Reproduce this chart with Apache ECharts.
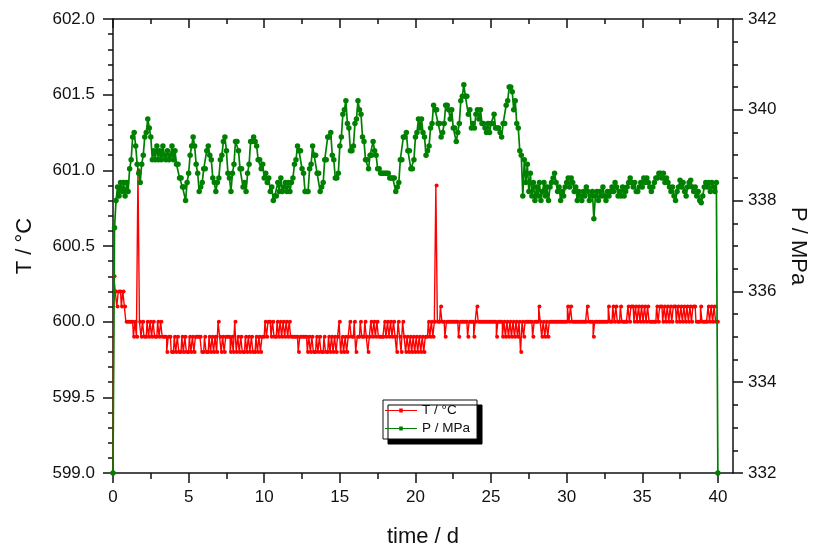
<!DOCTYPE html>
<html>
<head>
<meta charset="utf-8">
<script src="https://cdn.jsdelivr.net/npm/echarts@6/dist/echarts.min.js"></script>
<style>
  html, body { margin: 0; padding: 0; background: #ffffff; }
  #chart { width: 816px; height: 551px; }
</style>
</head>
<body>
<div id="chart"></div>
<script>
// Logger sampling interval, days
const SAMPLE_STEP_D = 0.1;

// Temperature readings (°C), one row per day, 10 samples per day; last row is day 40
const temperature = [
  599.0, 600.3, 600.2, 600.1, 600.2, 600.2, 600.1, 600.2, 600.1, 600.0,
  600.0, 600.0, 600.0, 600.0, 599.9, 600.0, 599.9, 601.0, 600.0, 599.9,
  600.0, 599.9, 599.9, 600.0, 599.9, 600.0, 599.9, 600.0, 599.9, 599.9,
  600.0, 599.9, 600.0, 599.9, 599.9, 599.9, 599.8, 599.9, 599.9, 599.8,
  599.8, 599.9, 599.8, 599.9, 599.8, 599.8, 599.9, 599.8, 599.9, 599.8,
  599.8, 599.9, 599.8, 599.9, 599.8, 599.9, 599.9, 599.9, 599.9, 599.8,
  599.8, 599.9, 599.8, 599.8, 599.9, 599.8, 599.9, 599.8, 599.9, 599.8,
  600.0, 599.9, 599.8, 599.9, 599.8, 599.9, 599.9, 599.9, 599.8, 599.9,
  599.8, 600.0, 599.8, 599.9, 599.8, 599.9, 599.8, 599.8, 599.9, 599.8,
  599.9, 599.8, 599.9, 599.8, 599.8, 599.9, 599.8, 599.9, 599.8, 599.9,
  599.9, 600.0, 599.9, 600.0, 600.0, 599.9, 600.0, 599.9, 599.9, 600.0,
  599.9, 600.0, 599.9, 600.0, 599.9, 600.0, 599.9, 600.0, 599.9, 599.9,
  599.9, 599.9, 599.9, 599.8, 599.9, 599.9, 599.9, 599.9, 599.9, 599.8,
  599.9, 599.8, 599.9, 599.8, 599.8, 599.9, 599.8, 599.9, 599.8, 599.8,
  599.9, 599.8, 599.8, 599.9, 599.8, 599.9, 599.8, 599.9, 599.8, 599.9,
  600.0, 599.8, 599.9, 599.8, 599.9, 599.8, 599.9, 600.0, 599.9, 599.9,
  600.0, 599.8, 599.9, 599.9, 600.0, 599.9, 599.9, 600.0, 599.9, 599.8,
  599.9, 600.0, 599.9, 600.0, 599.9, 600.0, 599.9, 599.9, 599.9, 599.9,
  600.0, 599.9, 600.0, 599.9, 600.0, 599.9, 600.0, 599.9, 599.8, 600.0,
  599.9, 599.8, 600.0, 599.9, 599.8, 599.9, 599.8, 599.9, 599.8, 599.9,
  599.8, 599.9, 599.8, 599.9, 599.8, 599.9, 599.8, 599.9, 599.9, 600.0,
  599.9, 600.0, 599.9, 600.0, 600.9, 600.0, 600.0, 600.1, 600.0, 600.0,
  599.9, 600.0, 600.0, 600.0, 600.0, 600.0, 600.0, 600.0, 600.0, 599.9,
  600.0, 600.0, 600.0, 600.0, 600.0, 599.9, 600.0, 600.0, 600.0, 599.9,
  600.0, 600.1, 600.0, 600.0, 600.0, 600.0, 600.0, 600.0, 600.0, 600.0,
  600.0, 600.0, 600.0, 600.0, 599.9, 600.0, 600.0, 600.0, 599.9, 600.0,
  599.9, 600.0, 599.9, 600.0, 599.9, 600.0, 599.9, 600.0, 599.9, 600.0,
  599.8, 600.0, 599.9, 600.0, 600.0, 600.0, 600.0, 600.0, 599.9, 600.0,
  600.0, 600.0, 600.1, 600.0, 599.9, 600.0, 599.9, 600.0, 599.9, 600.0,
  600.0, 600.0, 600.0, 600.0, 600.0, 600.0, 600.0, 600.0, 600.0, 600.0,
  600.0, 600.1, 600.0, 600.1, 600.0, 600.0, 600.0, 600.0, 600.0, 600.0,
  600.0, 600.0, 600.0, 600.0, 600.1, 600.0, 600.0, 600.0, 599.9, 600.0,
  600.0, 600.0, 600.0, 600.0, 600.0, 600.0, 600.0, 600.0, 600.1, 600.0,
  600.0, 600.1, 600.0, 600.1, 600.0, 600.0, 600.1, 600.0, 600.0, 600.0,
  600.0, 600.1, 600.0, 600.1, 600.1, 600.0, 600.1, 600.0, 600.1, 600.0,
  600.1, 600.0, 600.1, 600.0, 600.1, 600.0, 600.0, 600.0, 600.0, 600.0,
  600.1, 600.0, 600.1, 600.1, 600.0, 600.1, 600.0, 600.1, 600.0, 600.1,
  600.0, 600.1, 600.1, 600.0, 600.1, 600.0, 600.1, 600.0, 600.1, 600.0,
  600.1, 600.0, 600.1, 600.0, 600.1, 600.1, 600.0, 600.0, 600.0, 600.1,
  600.0, 600.0, 600.0, 600.0, 600.1, 600.0, 600.1, 600.0, 600.1, 600.0,
  600.0
];

// Pressure readings (MPa), same sampling as the temperature
const pressure = [
  332.0, 337.4, 338.0, 338.3, 338.1, 338.4, 338.2, 338.4, 338.1, 338.4,
  338.2, 338.7, 338.9, 339.4, 339.5, 339.2, 338.8, 338.6, 338.4, 338.8,
  339.0, 339.4, 339.5, 339.8, 339.6, 339.4, 338.9, 339.1, 338.9, 339.2,
  338.9, 339.1, 338.9, 339.2, 339.0, 338.9, 339.1, 338.9, 339.0, 339.2,
  338.9, 339.1, 338.8, 338.8, 338.5, 338.5, 338.3, 338.3, 338.0, 338.4,
  338.6, 339.0, 339.2, 339.4, 339.2, 338.8, 338.6, 338.2, 338.3, 338.4,
  338.7, 338.7, 339.1, 339.2, 339.0, 338.9, 338.5, 338.4, 338.2, 338.4,
  338.5, 338.9, 339.0, 339.3, 339.4, 339.1, 338.6, 338.5, 338.2, 338.6,
  338.8, 339.3, 339.3, 339.1, 338.7, 338.7, 338.3, 338.4, 338.2, 338.6,
  338.8, 339.3, 339.3, 339.4, 339.3, 339.2, 338.9, 338.9, 338.7, 338.8,
  338.5, 338.6, 338.4, 338.5, 338.2, 338.3, 338.0, 338.1, 338.1, 338.4,
  338.2, 338.5, 338.2, 338.3, 338.4, 338.2, 338.4, 338.2, 338.4, 338.5,
  338.8, 338.9, 339.2, 339.1, 339.1, 338.7, 338.6, 338.2, 338.2, 338.2,
  338.7, 338.8, 339.2, 339.0, 339.0, 338.6, 338.6, 338.2, 338.3, 338.4,
  338.9, 338.9, 339.4, 339.4, 339.5, 339.0, 338.9, 338.5, 338.5, 338.6,
  339.2, 339.4, 339.9, 340.0, 340.2, 339.7, 339.6, 339.1, 339.1, 339.2,
  339.7, 339.8, 340.2, 340.0, 339.9, 339.4, 339.3, 338.9, 338.9, 338.7,
  339.0, 339.0, 339.3, 339.1, 339.0, 338.7, 338.7, 338.6, 338.6, 338.6,
  338.6, 338.6, 338.6, 338.5, 338.5, 338.5, 338.5, 338.2, 338.3, 338.4,
  338.9, 338.9, 339.4, 339.4, 339.5, 339.1, 339.1, 338.7, 338.7, 338.9,
  339.4, 339.5, 339.8, 339.6, 339.8, 339.5, 339.4, 339.0, 339.1, 339.2,
  339.6, 339.7, 340.1, 340.0, 340.0, 339.7, 339.7, 339.4, 339.5, 339.7,
  340.1, 340.1, 340.0, 339.8, 340.0, 339.6, 339.6, 339.3, 339.5, 339.7,
  340.2, 340.3, 340.55, 340.3, 340.3, 339.9, 340.0, 339.6, 339.7, 339.6,
  339.9, 340.0, 339.8, 340.0, 339.7, 339.7, 339.6, 339.5, 339.7, 339.5,
  339.7, 339.7, 339.9, 339.6, 339.6, 339.6, 339.5, 339.4, 339.7, 339.7,
  340.1, 340.2, 340.5, 340.5, 340.4, 340.0, 340.2, 339.7, 339.6, 339.1,
  339.0, 338.1, 338.9, 338.4, 338.8, 338.2, 338.6, 338.1, 338.4, 338.0,
  338.3, 338.1, 338.4, 338.0, 338.2, 338.4, 338.1, 338.3, 338.0, 338.3,
  338.4, 338.5, 338.6, 338.4, 338.2, 338.3, 338.0, 338.2, 338.1, 338.3,
  338.4, 338.5, 338.3, 338.5, 338.4, 338.2, 338.3, 338.0, 338.2, 338.1,
  338.0, 338.2, 338.1, 338.3, 338.2, 338.0, 338.1, 338.2, 337.6, 338.1,
  338.2, 338.0, 338.2, 338.1, 338.3, 338.1, 338.0, 338.2, 338.1, 338.2,
  338.3, 338.2, 338.4, 338.3, 338.1, 338.2, 338.1, 338.3, 338.1, 338.2,
  338.3, 338.4, 338.5, 338.4, 338.3, 338.4, 338.2, 338.2, 338.3, 338.4,
  338.3, 338.5, 338.4, 338.5, 338.4, 338.3, 338.2, 338.3, 338.4, 338.5,
  338.5, 338.6, 338.6, 338.5, 338.6, 338.4, 338.5, 338.4, 338.3, 338.2,
  338.3, 338.1, 338.0, 338.2, 338.3, 338.45, 338.3, 338.4, 338.2, 338.1,
  338.3, 338.4, 338.45, 338.3, 338.2, 338.3, 338.1, 338.2, 338.0, 337.95,
  338.1, 338.3, 338.4, 338.3, 338.4, 338.2, 338.4, 338.3, 338.2, 338.4,
  332.0
];

// Axis ticks
const xMajorTicks = [0, 5, 10, 15, 20, 25, 30, 35, 40];
const xMinorTicks = [2.5, 7.5, 12.5, 17.5, 22.5, 27.5, 32.5, 37.5];

const seriesNames = ['T / °C', 'P / MPa'];
const axisTitles = { x: 'time / d', left: 'T / °C', right: 'P / MPa' };

const FONT = "'Liberation Sans', Arial, sans-serif";
const INK = '#111111';
// Legend key: a short line with a small square point on it
const LEGEND_KEY = 'path://M0,1.4H32V2.6H0Z M14.2,0H17.8V4H14.2Z';

function pairs(values) {
  return values.map((v, i) => [+(i * SAMPLE_STEP_D).toFixed(2), v]);
}

const chart = echarts.init(document.getElementById('chart'), null, { renderer: 'canvas' });

const xRange = { type: 'value', min: 0, max: 41, gridIndex: 0, splitLine: { show: false } };
const lineStyle = { color: INK, width: 1.5 };

chart.setOption({
  animation: false,
  backgroundColor: '#ffffff',
  textStyle: { fontFamily: FONT },
  grid: { left: 113, right: 83, top: 19, bottom: 78, containLabel: false, outerBoundsMode: 'none' },
  legend: {
    orient: 'vertical',
    left: 383,
    top: 400,
    padding: [3, 7, 3, 2],
    itemGap: 3,
    itemWidth: 32,
    itemHeight: 4,
    icon: LEGEND_KEY,
    backgroundColor: '#ffffff',
    borderColor: INK,
    borderWidth: 1,
    borderRadius: 0,
    shadowColor: '#000000',
    shadowBlur: 0,
    shadowOffsetX: 5,
    shadowOffsetY: 5,
    textStyle: { fontFamily: FONT, fontSize: 13.5, color: INK, lineHeight: 15 },
    data: seriesNames
  },
  xAxis: [
    Object.assign({}, xRange, {
      position: 'bottom',
      axisLine: { show: true, onZero: false, lineStyle },
      axisTick: { show: true, inside: false, length: 10, customValues: xMajorTicks, lineStyle },
      axisLabel: { show: true, customValues: xMajorTicks, margin: 16, fontSize: 17, color: INK, fontFamily: FONT },
      name: axisTitles.x,
      nameLocation: 'middle',
      nameGap: 53,
      nameTextStyle: { fontSize: 22, color: INK, fontFamily: FONT }
    }),
    Object.assign({}, xRange, {
      position: 'bottom',
      axisLine: { show: false },
      axisTick: { show: true, inside: false, length: 6, customValues: xMinorTicks, lineStyle },
      axisLabel: { show: false }
    }),
    Object.assign({}, xRange, {
      position: 'top',
      axisLine: { show: true, onZero: false, lineStyle },
      axisTick: { show: true, inside: true, length: 9, customValues: xMajorTicks, lineStyle },
      axisLabel: { show: false }
    }),
    Object.assign({}, xRange, {
      position: 'top',
      axisLine: { show: false },
      axisTick: { show: true, inside: true, length: 5, customValues: xMinorTicks, lineStyle },
      axisLabel: { show: false }
    })
  ],
  yAxis: [
    {
      type: 'value',
      position: 'left',
      min: 599,
      max: 602,
      interval: 0.5,
      splitLine: { show: false },
      axisLine: { show: true, onZero: false, lineStyle },
      axisTick: { show: true, inside: false, length: 10, lineStyle },
      minorTick: { show: true, splitNumber: 5, length: 5, lineStyle },
      axisLabel: { margin: 18, fontSize: 17, color: INK, fontFamily: FONT, formatter: v => v.toFixed(1) },
      name: axisTitles.left,
      nameLocation: 'middle',
      nameGap: 77,
      nameTextStyle: { fontSize: 22, color: INK, fontFamily: FONT }
    },
    {
      type: 'value',
      position: 'right',
      min: 332,
      max: 342,
      interval: 2,
      splitLine: { show: false },
      axisLine: { show: true, onZero: false, lineStyle },
      axisTick: { show: true, inside: false, length: 10, lineStyle },
      minorTick: { show: true, splitNumber: 4, length: 5, lineStyle },
      axisLabel: { margin: 15, fontSize: 17, color: INK, fontFamily: FONT },
      name: axisTitles.right,
      nameLocation: 'middle',
      nameRotate: -90,
      nameGap: 49,
      nameTextStyle: { fontSize: 22, color: INK, fontFamily: FONT }
    }
  ],
  series: [
    {
      name: seriesNames[0],
      type: 'line',
      xAxisIndex: 0,
      yAxisIndex: 0,
      data: pairs(temperature),
      step: 'middle',
      showSymbol: true,
      showAllSymbol: true,
      symbol: 'circle',
      symbolSize: 4,
      color: '#ff0000',
      lineStyle: { color: '#ff0000', width: 1.4 },
      itemStyle: { color: '#ff0000' },
      emphasis: { disabled: true },
      clip: true,
      z: 2
    },
    {
      name: seriesNames[1],
      type: 'line',
      xAxisIndex: 0,
      yAxisIndex: 1,
      data: pairs(pressure),
      showSymbol: true,
      showAllSymbol: true,
      symbol: 'circle',
      symbolSize: 5.5,
      color: '#008000',
      lineStyle: { color: '#008000', width: 1.7 },
      itemStyle: { color: '#008000' },
      emphasis: { disabled: true },
      clip: true,
      z: 3
    }
  ]
});
</script>
</body>
</html>
